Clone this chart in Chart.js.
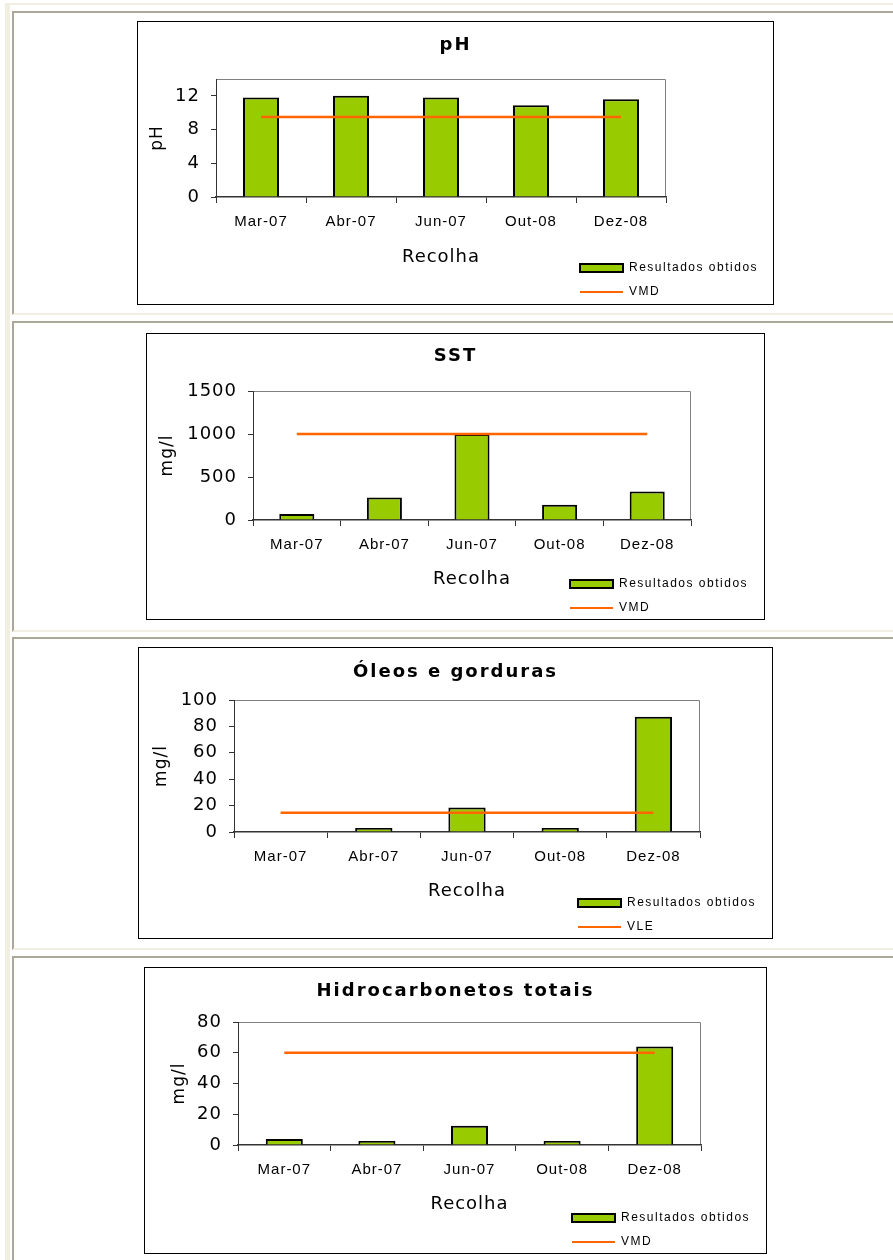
<!DOCTYPE html>
<html>
<head>
<meta charset="utf-8">
<title>Recolhas</title>
<script src="https://cdn.jsdelivr.net/npm/chart.js@4.4.1/dist/chart.umd.min.js"></script>
<style>
  html, body { margin: 0; padding: 0; background: #fff; }
  body { position: relative; width: 893px; height: 1260px; overflow: hidden; }
  .moldura { position: absolute; left: 5px; top: 3px; width: 900px; height: 1300px;
             border-left: 5px solid #f1efe2; border-top: 2px solid #f1efe2; }
  .celula { position: absolute; left: 12px; width: 900px;
            border-top: 2px solid #aca899; border-left: 2px solid #aca899; border-bottom: 2px solid #f1efe2; }
  .caixa { position: absolute; border: 1px solid #000; box-sizing: border-box; background: #fff; }
  .caixa div { position: relative; width: 100%; height: 100%; }
</style>
</head>
<body>
<div class="moldura"></div>
<div class="celula" style="top:11px;height:300px"></div>
<div class="celula" style="top:321px;height:307px"></div>
<div class="celula" style="top:637px;height:309px"></div>
<div class="celula" style="top:956px;height:400px"></div>

<div class="caixa" style="left:137px;top:21px;width:637px;height:284px"><div><canvas id="gPh"></canvas></div></div>
<div class="caixa" style="left:146px;top:333px;width:619px;height:287px"><div><canvas id="gSst"></canvas></div></div>
<div class="caixa" style="left:138px;top:647px;width:635px;height:292px"><div><canvas id="gOleos"></canvas></div></div>
<div class="caixa" style="left:144px;top:967px;width:623px;height:287px"><div><canvas id="gHidro"></canvas></div></div>

<script>
const recolhas = ['Mar-07', 'Abr-07', 'Jun-07', 'Out-08', 'Dez-08'];

const phObtidos = [11.8, 12.0, 11.8, 10.9, 11.6];
const phVmd = [9.5, 9.5, 9.5, 9.5, 9.5];
const phEscala = [0, 14, 4];          // min, max, passo

const sstObtidos = [70, 263, 1000, 178, 330];
const sstVmd = [1000, 1000, 1000, 1000, 1000];
const sstEscala = [0, 1500, 500];

const oleosObtidos = [0, 3, 18.5, 3, 87.3];
const oleosVle = [14.5, 14.5, 14.5, 14.5, 14.5];
const oleosEscala = [0, 100, 20];

const hidroObtidos = [3.9, 2.6, 12.6, 2.6, 64];
const hidroVmd = [60, 60, 60, 60, 60];
const hidroEscala = [0, 80, 20];

const verde = '#99cc00';
const laranja = '#ff6600';
const arial = "'Liberation Sans', Arial, sans-serif";

Chart.defaults.font.family = "'DejaVu Sans', Verdana, sans-serif";
Chart.defaults.color = '#000';

// espaçamento entre letras, como no Excel
const espacamento = {
  id: 'espacamento',
  afterInit(chart) {
    const envolver = (box, px) => {
      const draw = box.draw.bind(box);
      box.draw = (area) => {
        chart.ctx.save();
        chart.ctx.letterSpacing = px;
        draw(area);
        chart.ctx.restore();
      };
    };
    envolver(chart.titleBlock, '2px');
    envolver(chart.legend, '1.5px');
  },
  beforeLayout(chart) { chart.ctx.letterSpacing = '1px'; },
  beforeDraw(chart) { chart.ctx.letterSpacing = '1px'; }
};

// contorno cinzento da área do gráfico (topo e direita)
const contorno = {
  id: 'contorno',
  beforeDraw(chart) {
    const { ctx, chartArea: a } = chart;
    ctx.save();
    ctx.strokeStyle = '#808080';
    ctx.lineWidth = 1;
    ctx.beginPath();
    ctx.moveTo(a.left, Math.round(a.top) + 0.5);
    ctx.lineTo(Math.round(a.right) - 0.5, Math.round(a.top) + 0.5);
    ctx.lineTo(Math.round(a.right) - 0.5, a.bottom);
    ctx.stroke();
    ctx.restore();
  }
};

// legenda em baixo à direita, itens empilhados
const posLegenda = {
  id: 'posLegenda',
  afterLayout(chart, args, opts) {
    const lg = chart.legend;
    const pad = lg.options.labels.padding;
    lg.left = opts.x - pad;
    lg.top = opts.y - 6 - pad;
    lg.width = 260;
    lg.height = 80;
    lg.right = lg.left + lg.width;
    lg.bottom = lg.top + lg.height;
  }
};

function grafico(id, titulo, eixoY, obtidos, limite, nomeLimite, escala, g) {
  return new Chart(document.getElementById(id), {
    type: 'bar',
    data: {
      labels: recolhas,
      datasets: [
        {
          label: 'Resultados obtidos',
          data: obtidos,
          backgroundColor: verde,
          borderColor: '#000',
          borderWidth: 2,
          barPercentage: 0.4,
          categoryPercentage: 1,
          order: 1
        },
        {
          type: 'line',
          label: nomeLimite,
          data: limite,
          borderColor: laranja,
          backgroundColor: laranja,
          borderWidth: 2.5,
          pointRadius: 0,
          order: 0
        }
      ]
    },
    options: {
      responsive: true,
      maintainAspectRatio: false,
      animation: false,
      layout: { padding: 0 },
      scales: {
        x: {
          grid: { offset: true, drawOnChartArea: false, tickLength: 6, color: '#333' },
          border: { color: '#333', width: 1.5 },
          ticks: { font: { family: arial, size: 15 }, padding: 10, maxRotation: 0 },
          title: {
            display: true, text: 'Recolha', font: { size: 18 },
            padding: { top: 0, bottom: g.H - g.xTitulo - 10.8 }
          },
          afterFit(s) { s.height = g.H - g.b; }
        },
        y: {
          min: escala[0],
          max: escala[1],
          grid: { drawOnChartArea: false, tickLength: 5, color: '#333' },
          border: { color: '#333', width: 1 },
          ticks: {
            stepSize: escala[2],
            includeBounds: false,
            font: { size: 18 },
            padding: 11,
            callback: (v) => String(v)
          },
          title: {
            display: true, text: eixoY, font: { size: 17 },
            padding: { top: g.yTitulo - 10.2, bottom: 0 }
          },
          afterFit(s) { s.width = g.l; }
        }
      },
      plugins: {
        title: {
          display: true,
          text: titulo,
          color: '#000',
          font: { size: 18, weight: 'bold' },
          padding: { top: g.titulo - 10.8, bottom: g.t - g.titulo - 10.8 }
        },
        legend: {
          position: 'right',
          align: 'start',
          maxWidth: g.W - g.r,
          labels: {
            usePointStyle: true,
            pointStyleWidth: 43,
            boxHeight: 8,
            padding: 12,
            color: '#000',
            font: { family: arial, size: 12 },
            sort: (a, b) => a.datasetIndex - b.datasetIndex,
            generateLabels(chart) {
              return Chart.defaults.plugins.legend.labels.generateLabels(chart).map(item => {
                const linha = chart.data.datasets[item.datasetIndex].type === 'line';
                item.pointStyle = linha ? 'line' : 'rect';
                item.lineWidth = 2;
                item.strokeStyle = linha ? laranja : '#000';
                item.fillStyle = linha ? laranja : verde;
                return item;
              });
            }
          }
        },
        tooltip: { enabled: false },
        posLegenda: { x: g.legX, y: g.legY }
      }
    },
    plugins: [espacamento, contorno, posLegenda]
  });
}

grafico('gPh', 'pH', 'pH', phObtidos, phVmd, 'VMD', phEscala,
  { W: 635, H: 282, l: 78, t: 57, r: 528, b: 175, titulo: 23, yTitulo: 20, xTitulo: 235, legX: 442, legY: 246 });

grafico('gSst', 'SST', 'mg/l', sstObtidos, sstVmd, 'VMD', sstEscala,
  { W: 617, H: 285, l: 106, t: 57, r: 544, b: 186, titulo: 22, yTitulo: 21, xTitulo: 245, legX: 423, legY: 250 });

grafico('gOleos', 'Óleos e gorduras', 'mg/l', oleosObtidos, oleosVle, 'VLE', oleosEscala,
  { W: 633, H: 290, l: 95, t: 52, r: 561, b: 184, titulo: 24, yTitulo: 23, xTitulo: 243, legX: 439, legY: 255 });

grafico('gHidro', 'Hidrocarbonetos totais', 'mg/l', hidroObtidos, hidroVmd, 'VMD', hidroEscala,
  { W: 621, H: 285, l: 93, t: 54, r: 556, b: 177, titulo: 23, yTitulo: 35, xTitulo: 236, legX: 427, legY: 250 });
</script>
</body>
</html>
